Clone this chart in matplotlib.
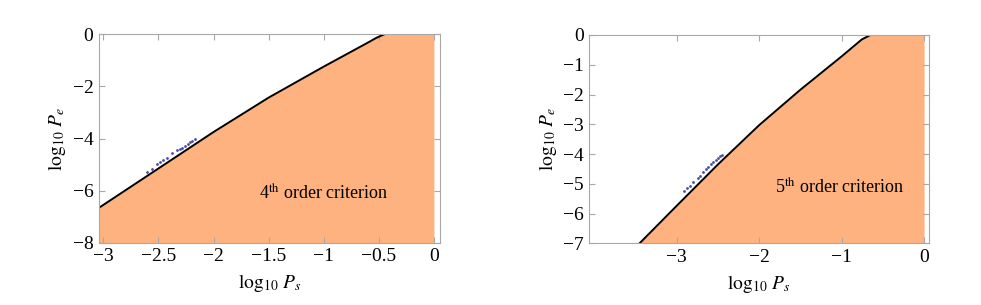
import matplotlib
matplotlib.use("Agg")
import matplotlib.pyplot as plt
import numpy as np

plt.rcParams['font.family'] = ['Liberation Serif', 'DejaVu Serif']
plt.rcParams['mathtext.fontset'] = 'stix'

# 4th order panel
ps4 = [-3.04, -2.5, -2.0, -1.5, -1.0, -0.6, -0.52, -0.45, 0.0]
pe4 = [-6.66, -5.15, -3.75, -2.43, -1.24, -0.32, -0.13, 0.0, 0.0]
dots4_x = [-2.606, -2.561, -2.515, -2.485, -2.456, -2.425, -2.374, -2.334,
           -2.304, -2.283, -2.259, -2.234, -2.213, -2.192, -2.168]
dots4_y = [-5.276, -5.161, -4.969, -4.893, -4.828, -4.766, -4.561, -4.46,
           -4.406, -4.368, -4.306, -4.215, -4.153, -4.088, -4.038]

# 5th order panel
ps5 = [-3.45, -3.0, -2.5, -2.0, -1.5, -1.0, -0.755, -0.65, 0.0]
pe5 = [-7.0, -5.74, -4.35, -3.03, -1.84, -0.72, -0.15, 0.0, 0.0]
dots5_x = [-2.908, -2.879, -2.839, -2.799, -2.745, -2.717, -2.677, -2.648,
           -2.616, -2.584, -2.556, -2.527, -2.495, -2.475, -2.454]
dots5_y = [-5.23, -5.15, -5.07, -4.93, -4.79, -4.74, -4.59, -4.51,
           -4.42, -4.33, -4.27, -4.2, -4.12, -4.06, -4.03]

fill_col = "#fdb27f"
frame_col = "#a8a8a8"
dot_col = "#4a4aa8"

fig = plt.figure(figsize=(9.81, 3.05), dpi=100)
ax1 = fig.add_axes([0.1009, 0.2043, 0.3476, 0.6832])
ax2 = fig.add_axes([0.6007, 0.2023, 0.3463, 0.6830])


def style(ax, xlim, ylim, xticks, yticks, xlabels):
    ax.set_xlim(*xlim)
    ax.set_ylim(*ylim)
    ax.set_xticks(xticks)
    ax.set_xticklabels(xlabels)
    ax.set_yticks(yticks)
    ax.set_yticklabels([str(t).replace("-", "\u2212") for t in yticks])
    for s in ax.spines.values():
        s.set_color(frame_col)
        s.set_linewidth(0.8)
    ax.tick_params(direction="in", top=True, right=True, length=4,
                   color=frame_col, labelsize=14, pad=4)
    ax.set_xlabel(r"$\log_{10}\,P_s$", fontsize=14, labelpad=5)
    ax.set_ylabel(r"$\log_{10}\,P_e$", fontsize=14, labelpad=3)


ax1.fill_between(ps4, pe4, -8, color=fill_col, lw=0)
ax1.plot(ps4[:8], pe4[:8], color="black", lw=1.4)
ax1.scatter(dots4_x, dots4_y, s=4, color=dot_col, lw=0, zorder=3)
ax1.text(-1.0, -6.09, r"4$^{\mathrm{th}}$ order criterion", fontsize=13,
         ha="center", va="center")
style(ax1, (-3.04, 0.055), (-8, 0), [-3, -2.5, -2, -1.5, -1, -0.5, 0],
      [-8, -6, -4, -2, 0],
      ["\u22123", "\u22122.5", "\u22122", "\u22121.5", "\u22121", "\u22120.5", "0"])

ax2.fill_between(ps5, pe5, -7, color=fill_col, lw=0)
ax2.plot(ps5[:8], pe5[:8], color="black", lw=1.4)
ax2.scatter(dots5_x, dots5_y, s=4, color=dot_col, lw=0, zorder=3)
ax2.text(-1.02, -5.1, r"5$^{\mathrm{th}}$ order criterion", fontsize=13,
         ha="center", va="center")
style(ax2, (-4.06, 0.06), (-7, 0), [-3, -2, -1, 0],
      [-7, -6, -5, -4, -3, -2, -1, 0],
      ["\u22123", "\u22122", "\u22121", "0"])

fig.savefig("out.png", dpi=100)
